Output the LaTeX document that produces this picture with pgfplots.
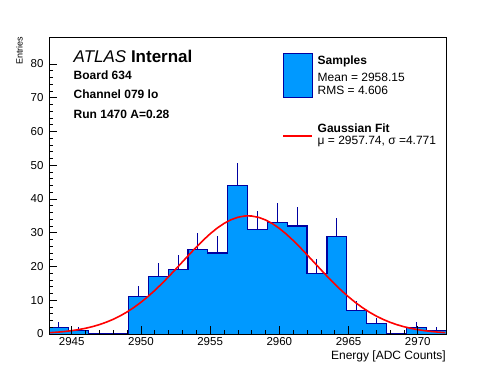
\documentclass[border=0pt]{standalone}
\usepackage{pgfplots}
\pgfplotsset{compat=1.18}
\usepackage{fontspec}
\setmainfont{Liberation Sans}
\definecolor{histfill}{RGB}{0,153,255}
\definecolor{histline}{RGB}{0,0,160}
\begin{document}
\begin{tikzpicture}[x=1pt,y=1pt]
\path[use as bounding box] (0,0) rectangle (496,372);
\begin{axis}[
  at={(49pt,38pt)}, anchor=south west,
  scale only axis, width=397pt, height=297pt,
  xmin=2943.36, xmax=2972.04, ymin=0, ymax=88,
  xtick={2945,2950,...,2970}, ytick={0,10,...,80},
  minor x tick num=4, minor y tick num=4,
  tick align=inside, xtick pos=bottom, ytick pos=left,
  major tick length=8pt, minor tick length=4pt,
  tick style={black, line width=0.6pt},
  axis line style={line width=0.8pt},
  /pgf/number format/assume math mode=true,
  /pgf/number format/1000 sep={},
  ticklabel style={font=\fontsize{11.5}{13}\selectfont},
  yticklabel style={xshift=-2pt},
  axis on top,
]
\addplot[draw=none, mark=none, forget plot, error bars/.cd, y dir=plus, y explicit, error mark=none, error bar style={draw=histline, solid, line width=1pt}] coordinates {
(2944.077,2) +- (0,1.414)
(2945.511,1) +- (0,1)
(2949.813,11) +- (0,3.317)
(2951.247,17) +- (0,4.123)
(2952.681,19) +- (0,4.359)
(2954.115,25) +- (0,5)
(2955.549,24) +- (0,4.899)
(2956.983,44) +- (0,6.633)
(2958.417,31) +- (0,5.568)
(2959.851,33) +- (0,5.745)
(2961.285,32) +- (0,5.657)
(2962.719,18) +- (0,4.243)
(2964.153,29) +- (0,5.385)
(2965.587,7) +- (0,2.646)
(2967.021,3) +- (0,1.732)
(2969.889,2) +- (0,1.414)
(2971.323,1) +- (0,1)
};
\addplot[ybar interval, fill=histfill, draw=none] coordinates {
(2943.36,2) (2944.794,1) (2946.228,0) (2947.662,0) (2949.096,11) (2950.53,17) (2951.964,19) (2953.398,25) (2954.832,24) (2956.266,44) (2957.70,31) (2959.134,33) (2960.568,32) (2962.002,18) (2963.436,29) (2964.87,7) (2966.304,3) (2967.738,0) (2969.172,2) (2970.606,1) (2972.04,1)};
\addplot[const plot, histline, line width=1.2pt] coordinates {
(2943.36,2) (2944.794,1) (2946.228,0) (2947.662,0) (2949.096,11) (2950.53,17) (2951.964,19) (2953.398,25) (2954.832,24) (2956.266,44) (2957.70,31) (2959.134,33) (2960.568,32) (2962.002,18) (2963.436,29) (2964.87,7) (2966.304,3) (2967.738,0) (2969.172,2) (2970.606,1) (2972.04,1)};
\addplot[red, line width=1.6pt] coordinates {
(2943.4,0.382) (2944,0.553) (2944.5,0.744) (2945,0.991) (2945.5,1.303) (2946,1.695) (2946.5,2.182) (2947,2.777) (2947.5,3.499) (2948,4.355) (2948.5,5.365) (2949,6.535) (2949.5,7.876) (2950,9.387) (2950.5,11.07) (2951,12.90) (2951.5,14.88) (2952,16.97) (2952.5,19.15) (2953,21.37) (2953.5,23.58) (2954,25.74) (2954.5,27.79) (2955,29.68) (2955.5,31.35) (2956,32.75) (2956.5,33.84) (2957,34.58) (2957.5,34.96) (2957.74,35.0) (2958,34.95) (2958.5,34.56) (2959,33.80) (2959.5,32.70) (2960,31.29) (2960.5,29.61) (2961,27.71) (2961.5,25.66) (2962,23.49) (2962.5,21.28) (2963,19.06) (2963.5,16.89) (2964,14.80) (2964.5,12.83) (2965,11.00) (2965.5,9.325) (2966,7.819) (2966.5,6.486) (2967,5.321) (2967.5,4.319) (2968,3.466) (2968.5,2.751) (2969,2.160) (2969.5,1.678) (2970,1.289) (2970.5,0.979) (2971,0.736) (2971.5,0.547) (2972,0.402)};
\end{axis}
\node[rotate=90, anchor=east, inner sep=0pt, font=\fontsize{9}{11}\selectfont] at (19.5,335.3) {Entries};
\node[anchor=east, inner sep=0pt, font=\fontsize{12}{14}\selectfont] at (446,16) {Energy [ADC Counts]};
\node[anchor=west, inner sep=0pt, font=\fontsize{17}{20}\selectfont] at (73.5,316) {\textit{ATLAS} \textbf{Internal}};
\node[anchor=west, inner sep=0pt, font=\bfseries\fontsize{12}{14}\selectfont] at (73.5,297) {Board 634};
\node[anchor=west, inner sep=0pt, font=\bfseries\fontsize{12}{14}\selectfont] at (73.5,277.5) {Channel 079 lo};
\node[anchor=west, inner sep=0pt, font=\bfseries\fontsize{12}{14}\selectfont] at (73.5,258) {Run 1470 A=0.28};
\fill[histfill, draw=histline, line width=0.8pt] (283,275) rectangle (312,319);
\draw[red, line width=1.6pt] (283,236) -- (312,236);
\node[anchor=west, inner sep=0pt, font=\bfseries\fontsize{12}{14}\selectfont] at (317.5,311) {Samples};
\node[anchor=west, inner sep=0pt, font=\fontsize{12}{14}\selectfont] at (317.5,294.7) {Mean = 2958.15};
\node[anchor=west, inner sep=0pt, font=\fontsize{12}{14}\selectfont] at (317.5,282) {RMS = 4.606};
\node[anchor=west, inner sep=0pt, font=\bfseries\fontsize{12}{14}\selectfont] at (317.5,243.7) {Gaussian Fit};
\node[anchor=west, inner sep=0pt, font=\fontsize{12}{14}\selectfont] at (317.5,230.5) {μ = 2957.74, σ =4.771};
\end{tikzpicture}
\end{document}
